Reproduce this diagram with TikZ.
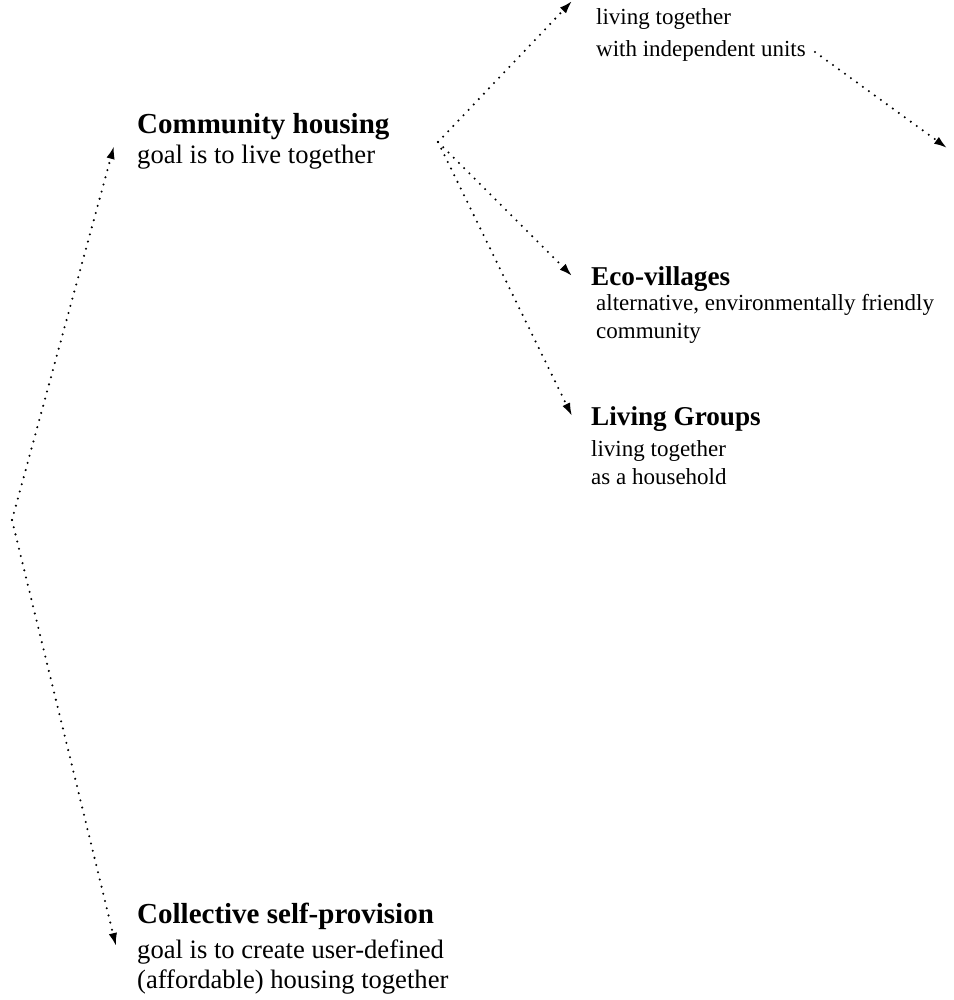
\documentclass[tikz,border=0pt]{standalone}
\usepackage{fontspec}
\setmainfont{Liberation Serif}
\usetikzlibrary{arrows.meta}
\tikzset{
  ttlL/.style={anchor=base west,inner sep=0pt,font=\fontsize{29}{34}\selectfont\bfseries},
  ttlR/.style={anchor=base west,inner sep=0pt,font=\fontsize{27.2}{32}\selectfont\bfseries},
  bdyL/.style={anchor=base west,inner sep=0pt,align=left,font=\fontsize{26.6}{29.5}\selectfont},
  bdyR/.style={anchor=base west,inner sep=0pt,align=left,font=\fontsize{23}{28}\selectfont},
  conn/.style={line width=2.3pt,line cap=round,dash pattern=on 0pt off 7.4pt,
    -{Latex[length=13pt,width=8.5pt]}},
}
\begin{document}
\begin{tikzpicture}[x=1pt,y=-1pt]
\useasboundingbox (0,0) rectangle (953,1000);
% texts (multi-line nodes are placed by the baseline of their last line)
\node[bdyR,font=\fontsize{23}{32}\selectfont] (topbody) at (596,57) {living together\\with independent units};
\node[ttlL] (comm) at (137,134) {Community housing};
\node[bdyL] (commb) at (137,164) {goal is to live together};
\node[ttlR] (eco) at (591,285) {Eco-villages};
\node[bdyR] (ecob) at (596,338) {alternative, environmentally friendly\\community};
\node[ttlR] (liv) at (591,425) {Living Groups};
\node[bdyR] (livb) at (591,484) {living together\\as a household};
\node[ttlL] (coll) at (137,923) {Collective self-provision};
\node[bdyL] (collb) at (137,988) {goal is to create user-defined\\(affordable) housing together};
% connector points
\coordinate (hub) at (438,142);
\coordinate (tipT) at (572,1);
\coordinate (unitsend) at (815,52);
\coordinate (tipR) at (947,148);
\coordinate (tipE) at (572,276);
\coordinate (tipL) at (572,416);
\coordinate (vert) at (12,520);
\coordinate (tipC) at (114,146);
\coordinate (tipS) at (116,946);
\draw[conn] (hub) -- (tipT);
\draw[conn] (unitsend) -- (tipR);
\draw[conn] (hub) -- (tipE);
\draw[conn] (hub) -- (tipL);
\draw[conn] (vert) -- (tipC);
\draw[conn] (vert) -- (tipS);
\end{tikzpicture}
\end{document}
